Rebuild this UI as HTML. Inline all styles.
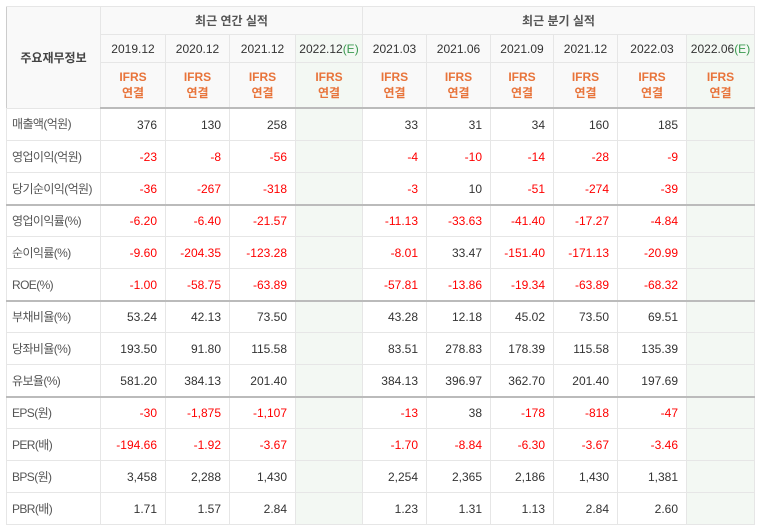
<!DOCTYPE html>
<html><head><meta charset="utf-8"><style>
body{margin:0;background:#fff;width:761px;height:520px;overflow:hidden;font-family:"Liberation Sans","Noto Sans CJK KR","NanumGothic",sans-serif;}
table{position:absolute;left:6px;top:6px;border-collapse:collapse;table-layout:fixed;font-size:12px;color:#333;}
td,th{border:1px solid #e6e6e6;padding:0;font-weight:normal;white-space:nowrap;overflow:hidden;}
th{background:#f9f9f9;height:27px;}
th.big{font-weight:bold;color:#555;}
th.lab{color:#444;font-weight:bold;}
tr.h3 th{height:44px;color:#e8743b;font-weight:bold;line-height:16px;border-bottom:2px solid #bbb;}
td{height:31px;line-height:14px;text-align:right;padding-right:8px;}
td.l{text-align:left;padding-left:5px;color:#555;letter-spacing:-0.6px;}
td.e,th.e{background:#f3f8f3;}
.r{color:#f00;}
.g{color:#3a9a50;}
.bl{border-left:1px solid #ccc;}
tr.sep td{border-top:2px solid #bbb;height:30px;}
</style></head><body>
<table>
<colgroup><col style="width:94px"><col style="width:65px"><col style="width:64px"><col style="width:66px"><col style="width:67px"><col style="width:64px"><col style="width:64px"><col style="width:63px"><col style="width:64px"><col style="width:69px"><col style="width:68px"></colgroup>
<tr><th rowspan="3" class="lab bl">주요재무정보</th><th colspan="4" class="big bl">최근 연간 실적</th><th colspan="6" class="big bl">최근 분기 실적</th></tr>
<tr><th class="bl">2019.12</th><th>2020.12</th><th>2021.12</th><th class="e">2022.12<span class="g">(E)</span></th><th class="bl">2021.03</th><th>2021.06</th><th>2021.09</th><th>2021.12</th><th>2022.03</th><th class="e">2022.06<span class="g">(E)</span></th></tr>
<tr class="h3"><th class="bl">IFRS<br>연결</th><th>IFRS<br>연결</th><th>IFRS<br>연결</th><th class="e">IFRS<br>연결</th><th class="bl">IFRS<br>연결</th><th>IFRS<br>연결</th><th>IFRS<br>연결</th><th>IFRS<br>연결</th><th>IFRS<br>연결</th><th class="e">IFRS<br>연결</th></tr>
<tbody id="b"></tbody>
</table>
<script>
const rows=[
["매출액(억원)","376","130","258","","33","31","34","160","185",""],
["영업이익(억원)","-23","-8","-56","","-4","-10","-14","-28","-9",""],
["당기순이익(억원)","-36","-267","-318","","-3","10","-51","-274","-39",""],
["영업이익률(%)","-6.20","-6.40","-21.57","","-11.13","-33.63","-41.40","-17.27","-4.84",""],
["순이익률(%)","-9.60","-204.35","-123.28","","-8.01","33.47","-151.40","-171.13","-20.99",""],
["ROE(%)","-1.00","-58.75","-63.89","","-57.81","-13.86","-19.34","-63.89","-68.32",""],
["부채비율(%)","53.24","42.13","73.50","","43.28","12.18","45.02","73.50","69.51",""],
["당좌비율(%)","193.50","91.80","115.58","","83.51","278.83","178.39","115.58","135.39",""],
["유보율(%)","581.20","384.13","201.40","","384.13","396.97","362.70","201.40","197.69",""],
["EPS(원)","-30","-1,875","-1,107","","-13","38","-178","-818","-47",""],
["PER(배)","-194.66","-1.92","-3.67","","-1.70","-8.84","-6.30","-3.67","-3.46",""],
["BPS(원)","3,458","2,288","1,430","","2,254","2,365","2,186","1,430","1,381",""],
["PBR(배)","1.71","1.57","2.84","","1.23","1.31","1.13","2.84","2.60",""]];
const b=document.getElementById('b');
rows.forEach((r,i)=>{const tr=document.createElement('tr');


if(i==3||i==6||i==9)tr.className='sep';
r.forEach((v,j)=>{const td=document.createElement('td');td.textContent=v;
if(j==0)td.className='l';
if(j==4||j==10)td.classList.add('e');
if(j==1||j==5)td.classList.add('bl');
if(v.startsWith('-'))td.classList.add('r');


tr.appendChild(td);});b.appendChild(tr);});
</script>
</body></html>
